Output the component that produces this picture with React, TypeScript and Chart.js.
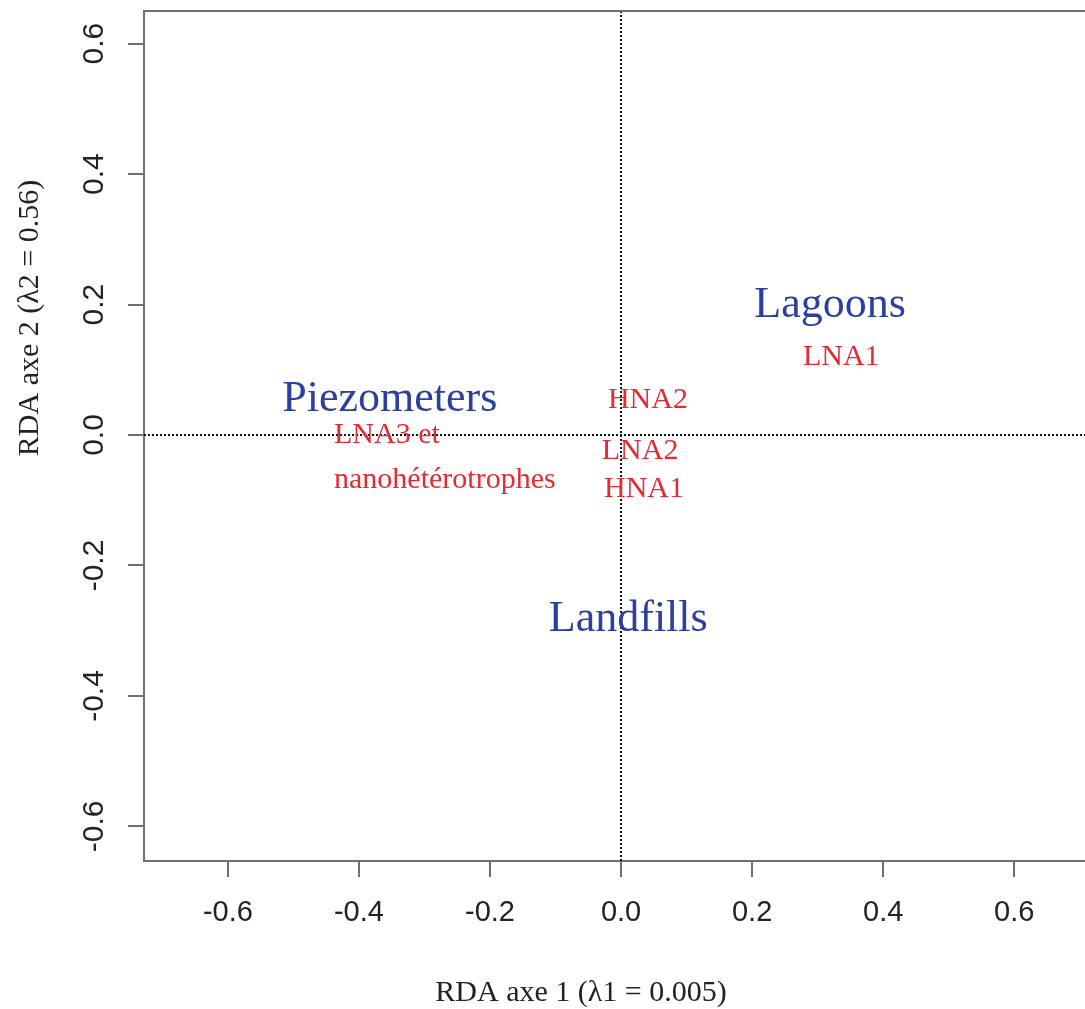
import { useEffect, useRef } from "react";
import { Chart, registerables } from "chart.js";

Chart.register(...registerables);

// ---- data ----
const xTicks = [-0.6, -0.4, -0.2, 0.0, 0.2, 0.4, 0.6];
const yTicks = [-0.6, -0.4, -0.2, 0.0, 0.2, 0.4, 0.6];
const xRange = [-0.728, 0.708];
const yRange = [-0.653, 0.65];

const siteNames = ["Lagoons", "Piezometers", "Landfills"];
const siteX = [0.319, -0.353, 0.011];
const siteY = [0.199, 0.054, -0.282];

const speciesNames = ["LNA1", "HNA2", "LNA2", "HNA1", "LNA3 et\nnanohétérotrophes"];
const speciesX = [0.336, 0.041, 0.029, 0.035, -0.438];
const speciesY = [0.12, 0.054, -0.024, -0.083, -0.0345];
const speciesAlign = ["center", "center", "center", "center", "left"];

const xTitle = "RDA axe 1 (λ1 = 0.005)";
const yTitle = "RDA axe 2 (λ2 = 0.56)";

const W = 1085;
const H = 1009;

const AXIS_COLOR = "#707070";
const SITE_COLOR = "#2a3f9f";
const SPECIES_COLOR = "#e32b33";
const TEXT_COLOR = "#222";

function drawLabels(
  ctx: CanvasRenderingContext2D,
  meta: any,
  names: string[],
  aligns: string[] | null,
  font: string,
  color: string,
  lineHeight: number
) {
  ctx.save();
  ctx.font = font;
  ctx.fillStyle = color;
  ctx.textBaseline = "middle";
  meta.data.forEach((el: any, i: number) => {
    const lines = names[i].split("\n");
    ctx.textAlign = (aligns ? aligns[i] : "center") as CanvasTextAlign;
    lines.forEach((ln, j) => {
      const dy = (j - (lines.length - 1) / 2) * lineHeight;
      ctx.fillText(ln, el.x, el.y + dy);
    });
  });
  ctx.restore();
}

const rdaPlugin = {
  id: "rdaText",
  afterDraw(chart: any) {
    const ctx: CanvasRenderingContext2D = chart.ctx;
    const { left, top, right, bottom } = chart.chartArea;
    // top border
    ctx.save();
    ctx.strokeStyle = AXIS_COLOR;
    ctx.lineWidth = 2;
    ctx.beginPath();
    ctx.moveTo(left, top);
    ctx.lineTo(right, top);
    ctx.stroke();
    ctx.restore();

    // text labels
    drawLabels(ctx, chart.getDatasetMeta(2), siteNames, null, "44px 'Liberation Serif', 'Times New Roman', serif", SITE_COLOR, 44);
    drawLabels(ctx, chart.getDatasetMeta(3), speciesNames, speciesAlign, "30px 'Liberation Serif', 'Times New Roman', serif", SPECIES_COLOR, 45);

    // tick labels
    ctx.save();
    ctx.font = "29px 'Liberation Sans', Arial, sans-serif";
    ctx.fillStyle = "#222";
    ctx.textAlign = "center";
    ctx.textBaseline = "middle";
    const xs = chart.scales.x;
    xs.ticks.forEach((t: any) => {
      ctx.fillText(Number(t.value).toFixed(1), xs.getPixelForValue(t.value), bottom + 52);
    });
    const ys = chart.scales.y;
    ctx.font = "30px 'Liberation Sans', Arial, sans-serif";
    ys.ticks.forEach((t: any) => {
      ctx.save();
      ctx.translate(left - 49, ys.getPixelForValue(t.value));
      ctx.rotate(-Math.PI / 2);
      ctx.fillText(Number(t.value).toFixed(1), 0, 0);
      ctx.restore();
    });
    ctx.restore();

    // axis titles
    ctx.save();
    ctx.font = "30px 'Liberation Serif', 'Times New Roman', serif";
    ctx.fillStyle = TEXT_COLOR;
    ctx.textAlign = "center";
    ctx.textBaseline = "middle";
    ctx.fillText(xTitle, 581, 993);
    ctx.translate(30, 318);
    ctx.rotate(-Math.PI / 2);
    ctx.fillText(yTitle, 0, 0);
    ctx.restore();
  },
};

export default function App() {
  const ref = useRef<HTMLCanvasElement | null>(null);

  useEffect(() => {
    if (!ref.current) return;
    const chart = new Chart(ref.current, {
      type: "scatter",
      data: {
        datasets: [
          {
            label: "h0",
            data: [
              { x: xRange[0], y: 0 },
              { x: xRange[1], y: 0 },
            ],
            showLine: true,
            borderColor: "#111",
            borderWidth: 2,
            borderDash: [2, 2],
            pointRadius: 0,
          },
          {
            label: "v0",
            data: [
              { x: 0, y: yRange[0] },
              { x: 0, y: yRange[1] },
            ],
            showLine: true,
            borderColor: "#111",
            borderWidth: 2,
            borderDash: [2, 2],
            pointRadius: 0,
          },
          {
            label: "sites",
            data: siteX.map((x, i) => ({ x, y: siteY[i] })),
            pointRadius: 0,
          },
          {
            label: "species",
            data: speciesX.map((x, i) => ({ x, y: speciesY[i] })),
            pointRadius: 0,
          },
        ],
      },
      options: {
        responsive: false,
        devicePixelRatio: 1,
        animation: false,
        layout: { padding: { top: 11, left: 0, right: 0, bottom: 0 } },
        plugins: {
          legend: { display: false },
          tooltip: { enabled: false },
        },
        scales: {
          x: {
            type: "linear",
            min: xRange[0],
            max: xRange[1],
            afterBuildTicks: (s: any) => {
              s.ticks = xTicks.map((v) => ({ value: v }));
            },
            afterFit: (s: any) => {
              s.height = H - 861;
            },
            ticks: { display: false },
            grid: {
              display: true,
              drawOnChartArea: false,
              drawTicks: true,
              tickLength: 16,
              color: AXIS_COLOR,
              lineWidth: 2,
            },
            border: { display: true, color: AXIS_COLOR, width: 2 },
          },
          y: {
            type: "linear",
            min: yRange[0],
            max: yRange[1],
            afterBuildTicks: (s: any) => {
              s.ticks = yTicks.map((v) => ({ value: v }));
            },
            afterFit: (s: any) => {
              s.width = 144;
            },
            ticks: { display: false },
            grid: {
              display: true,
              drawOnChartArea: false,
              drawTicks: true,
              tickLength: 16,
              color: AXIS_COLOR,
              lineWidth: 2,
            },
            border: { display: true, color: AXIS_COLOR, width: 2 },
          },
        },
      } as any,
      plugins: [rdaPlugin],
    });
    return () => chart.destroy();
  }, []);

  return (
    <div style={{ position: "fixed", left: 0, top: 0, width: W, height: H, background: "#fff" }}>
      <canvas ref={ref} width={W} height={H} style={{ display: "block" }} />
    </div>
  );
}
